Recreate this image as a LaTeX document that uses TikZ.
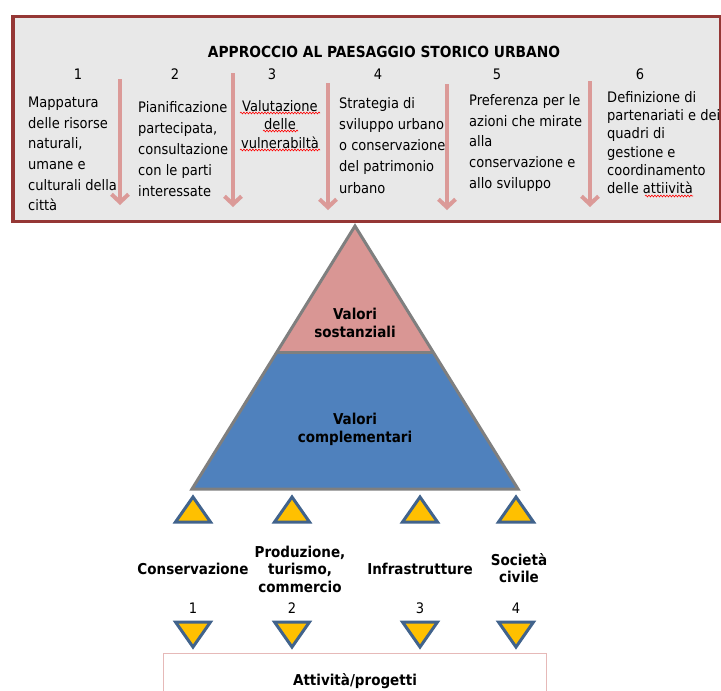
\documentclass[tikz,border=0pt]{standalone}
\usepackage{fontspec}
\setmainfont{DejaVu Sans Condensed}
\usetikzlibrary{arrows.meta,decorations.pathmorphing}
\definecolor{frame}{HTML}{953735}
\definecolor{boxfill}{HTML}{E8E8E8}
\definecolor{pinkarrow}{HTML}{DB9A98}
\definecolor{pyrpink}{HTML}{D99694}
\definecolor{pyrblue}{HTML}{4F81BD}
\definecolor{pyrline}{HTML}{7F7F7F}
\definecolor{tribord}{HTML}{41638C}
\definecolor{trifill}{HTML}{FFC000}
\definecolor{boxpink}{HTML}{E6B9B8}
\tikzset{
  txt/.style={inner sep=0pt, anchor=north west, align=left, font=\fontsize{14.5}{#1}\selectfont},
  txt/.default=20.8,
  num/.style={inner sep=0pt, anchor=base, font=\fontsize{14.5}{17}\selectfont},
  bold/.style={inner sep=0pt, anchor=north, align=center, font=\fontsize{15}{17.5}\selectfont\bfseries},
  downarrow/.style={pinkarrow, line width=4pt, -{Straight Barb[length=8pt,width=17pt]}},
  smalltri/.style={draw=tribord, fill=trifill, line width=3pt, line join=miter},
  squiggle/.style={red, line width=0.6pt, decorate, decoration={snake, amplitude=0.9pt, segment length=3pt}}
}
\begin{document}
\begin{tikzpicture}[x=1pt,y=-1pt]
\useasboundingbox (0,0) rectangle (721,691);
% top frame
\node[draw=frame, fill=boxfill, line width=3.5pt, minimum width=708pt, minimum height=205pt, anchor=north west, inner sep=0pt] (frame) at (11,14.5) {};
\node[inner sep=0pt, anchor=base, font=\fontsize{15.3}{17}\selectfont\bfseries] (title) at (384,57) {APPROCCIO AL PAESAGGIO STORICO URBANO};
\node[num] (n1) at (78,79) {1};
\node[num] (n2) at (175,79) {2};
\node[num] (n3) at (272,79) {3};
\node[num] (n4) at (378,79) {4};
\node[num] (n5) at (497,79) {5};
\node[num] (n6) at (640,79) {6};
% arrows
\coordinate (a1s) at (120,79); \coordinate (a1e) at (120,205);
\coordinate (a2s) at (233,73); \coordinate (a2e) at (233,207);
\coordinate (a3s) at (328,83); \coordinate (a3e) at (328,210);
\coordinate (a4s) at (447,84); \coordinate (a4e) at (447,210);
\coordinate (a5s) at (590,81); \coordinate (a5e) at (590,207);
\foreach \i in {1,...,5} {\draw[downarrow] (a\i s) -- (a\i e);}
% text blocks
\node[txt=20.6] (t1) at (28,97) {Mappatura\\delle risorse\\naturali,\\umane e\\culturali della\\città};
\node[txt=21] (t2) at (138,101.5) {Pianificazione\\partecipata,\\consultazione\\con le parti\\interessate};
\node[txt=18.5, anchor=north, align=center] (t3) at (280,100) {Valutazione\\delle\\vulnerabiltà};
\node[txt=21.2] (t4) at (339,97) {Strategia di\\sviluppo urbano\\o conservazione\\del patrimonio\\urbano};
\node[txt=20.8] (t5) at (469,94) {Preferenza per le\\azioni che mirate\\alla\\conservazione e\\allo sviluppo};
\node[txt=18.3] (t6) at (607,91) {Definizione di\\partenariati e dei\\quadri di\\gestione e\\coordinamento\\delle attiività};
% spell-check squiggles
\draw[squiggle] (240,113) -- (320,113);
\draw[squiggle] (263,131) -- (298,131);
\draw[squiggle] (240,150) -- (320,150);
\draw[squiggle] (645,196) -- (693,196);
% pyramid
\coordinate (apex) at (355,226);
\coordinate (bl) at (192,489);
\coordinate (br) at (518,489);
\coordinate (ml) at (276.9,352);
\coordinate (mr) at (433.1,352);
\fill[pyrpink] (apex) -- (mr) -- (ml) -- cycle;
\fill[pyrblue] (ml) -- (mr) -- (br) -- (bl) -- cycle;
\draw[pyrline, line width=3pt, line join=miter] (apex) -- (br) -- (bl) -- cycle;
\draw[pyrline, line width=3pt] (ml) -- (mr);
\node[bold] (vs) at (355,308) {Valori\\sostanziali};
\node[bold] (vc) at (355,413) {Valori\\complementari};
% small triangles
\foreach \x/\n in {193/1,292/2,420/3,516/4} {
  \draw[smalltri] (\x,497) -- (\x+17.5,522) -- (\x-17.5,522) -- cycle;
  \draw[smalltri] (\x-17.5,622) -- (\x+17.5,622) -- (\x,647) -- cycle;
  \node[num] (m\n) at (\x,613) {\n};
}
\node[bold] (l1) at (193,563) {Conservazione};
\node[bold] (l2) at (300,545.5) {Produzione,\\turismo,\\commercio};
\node[bold] (l3) at (420,563) {Infrastrutture};
\node[bold] (l4) at (519,553) {Società\\civile};
% bottom box
\node[draw=boxpink, fill=white, line width=1pt, minimum width=383pt, minimum height=60pt, anchor=north west, inner sep=0pt] (act) at (163,653) {};
\node[inner sep=0pt, anchor=base, font=\fontsize{15}{17}\selectfont\bfseries] (acttxt) at (355,685) {Attività/progetti};
\end{tikzpicture}
\end{document}
